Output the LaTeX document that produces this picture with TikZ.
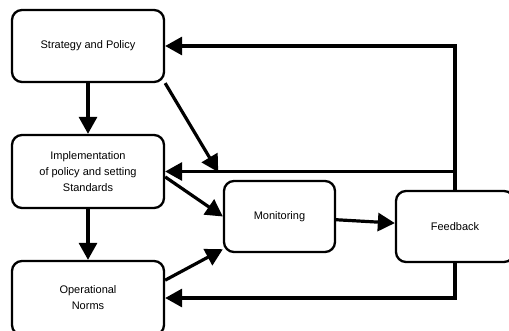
\documentclass[tikz,border=0pt]{standalone}
\usepackage{fontspec}
\setmainfont{Liberation Sans}
\usetikzlibrary{arrows.meta}

\begin{document}
\begin{tikzpicture}[x=1pt, y=1pt, box/.style={draw, rectangle, rounded corners=10pt, line width=2.3pt, align=center, font=\fontsize{11}{16}\selectfont}, n/.style={-{Triangle[length=17pt, width=18pt]}, line width=3.2pt}]
                \clip (0,0) rectangle (509,330);
                % nodes
                \node[box, minimum width=152pt, minimum height=72pt] (strat) at (88,284) {Strategy and Policy};
                \node[box, minimum width=152pt, minimum height=73pt] (impl) at (88,158.5) {Implementation\\of policy and setting\\Standards};
                \node[box, minimum width=152pt, minimum height=74pt] (oper) at (88,32) {Operational\\Norms};
                \node[box, minimum width=111pt, minimum height=71pt] (mon) at (279.5,113.5) {Monitoring};
                \node[box, minimum width=118pt, minimum height=71pt] (feed) at (455,103.5) {Feedback};
                % edges
                \draw [n] (strat) -- (impl);
                \draw [n] (impl) -- (oper);
                \draw [n, shorten >=9pt] (strat.south east) -- (mon.north west);
                \draw [n] (impl.-4) -- (mon.west);
                \draw [n] (oper.13) -- (mon.210);
                \draw [n] (mon) -- (feed);
                \draw [n] (feed.north) |- (strat.east);
                \draw [n] (feed.north |- impl.east) -- (impl.east);
                \draw [n] (feed.south) |- (oper.east);
            \end{tikzpicture}
\end{document}
